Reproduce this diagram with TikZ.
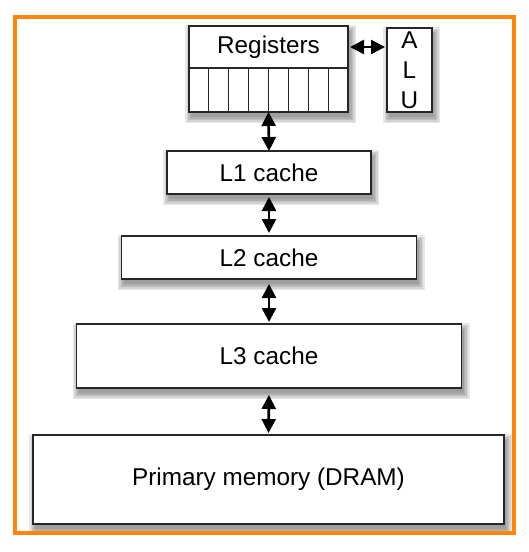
\documentclass[tikz,border=0pt]{standalone}
\usepackage{fontspec}
\setmainfont{Liberation Sans}
\usetikzlibrary{arrows.meta,calc,backgrounds}

\definecolor{frameorange}{RGB}{255,133,10}

\tikzset{
    membox/.style={draw=black!85, line width=1.2pt, fill=white, inner sep=0pt, outer sep=0pt,
        font=\fontsize{24.3}{30}\selectfont},
    shadowlayer/.style={fill=black, opacity=0.09},
    dblarrow/.style={line width=2.6pt, {Triangle[length=14pt,width=14pt]}-{Triangle[length=14pt,width=14pt]}}
}

\begin{document}
\begin{tikzpicture}[x=1pt, y=1pt]
    \useasboundingbox (0,0) rectangle (528,-552);

    % Outer frame
    \draw[frameorange, line width=4pt] (15,-17) rectangle (514,-533);

    % Register file
    \node[membox, minimum width=159pt, minimum height=86pt] (regfile) at (268.5,-69) {};
    \node[membox, minimum width=159pt, minimum height=42pt, anchor=north] (reg) at (regfile.north) {Registers};
    \node[membox, minimum width=159pt, minimum height=44pt, anchor=south] (cells) at (regfile.south) {};
    \foreach \i in {1,...,7}
        \draw[black!85, line width=1.2pt] ($(cells.north west)+(\i*19.875,0)$) -- ($(cells.south west)+(\i*19.875,0)$);

    % ALU
    \node[membox, align=center, minimum width=45pt, minimum height=84pt] (alu) at (409.5,-70) {A\\L\\U};

    % Caches and memory
    \node[membox, minimum width=204pt, minimum height=43pt] (l1) at (269,-172.5) {L1 cache};
    \node[membox, minimum width=295pt, minimum height=43pt] (l2) at (269,-257.5) {L2 cache};
    \node[membox, minimum width=385pt, minimum height=64pt] (l3) at (269,-356) {L3 cache};
    \node[membox, minimum width=471pt, minimum height=89pt] (mem) at (268.5,-479.5) {Primary memory (DRAM)};

    % Soft shadows behind the boxes
    \begin{scope}[on background layer]
        \foreach \n in {regfile,alu,l1,l2,l3,mem}
            \foreach \r in {6,4.5,3,1.5,0}
                \fill[shadowlayer] ($(\n.north west)+(2-\r,-5+\r)$) rectangle ($(\n.south east)+(2+\r,-5-\r)$);
    \end{scope}

    % Data paths
    \draw[dblarrow, shorten <=2pt, shorten >=2pt] (reg.east) -- (reg.east -| alu.west);
    \draw[dblarrow] (regfile.south) -- (l1.north);
    \draw[dblarrow, shorten <=3pt, shorten >=3pt] (l1.south) -- (l2.north);
    \draw[dblarrow, shorten <=5pt, shorten >=2pt] (l2.south) -- (l3.north);
    \draw[dblarrow, shorten <=7pt, shorten >=2pt] (l3.south) -- (mem.north);
\end{tikzpicture}
\end{document}
